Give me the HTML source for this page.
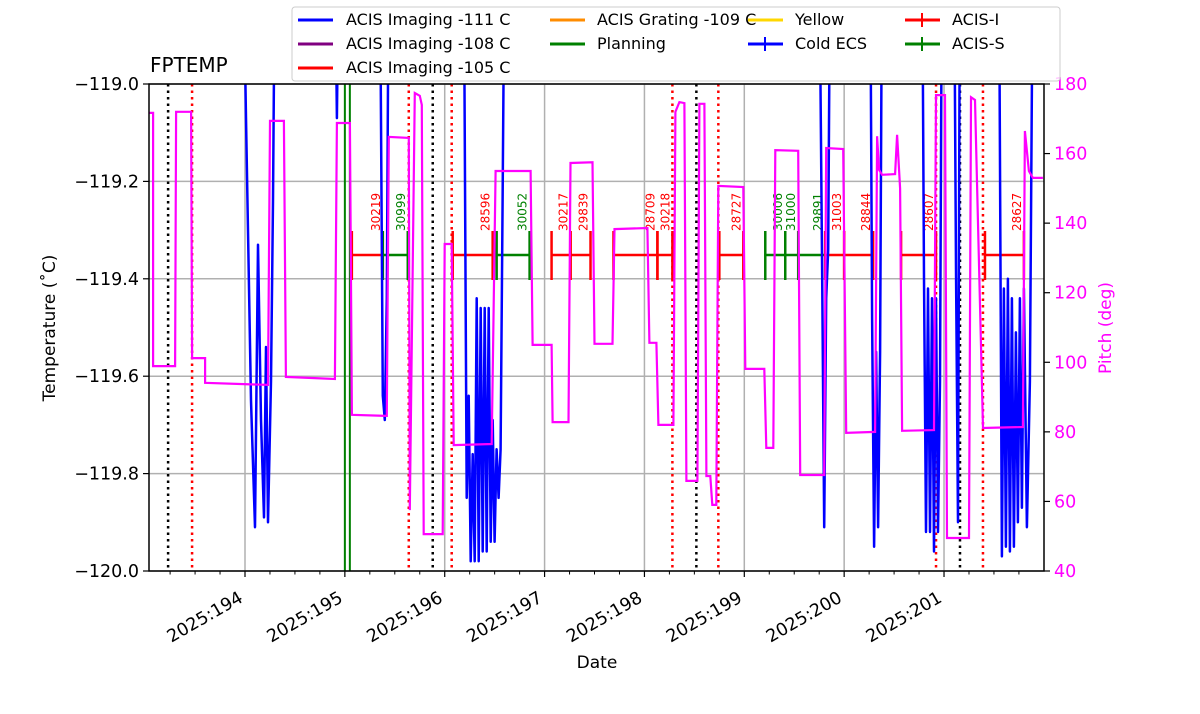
<!DOCTYPE html>
<html><head><meta charset="utf-8"><style>
body{margin:0;background:#fff}
svg{display:block;font-family:"DejaVu Sans","Liberation Sans",sans-serif}
</style></head><body>
<svg id="chart" width="1200" height="714" viewBox="0 0 1200 714" xmlns="http://www.w3.org/2000/svg">
<defs><clipPath id="clip"><rect x="149" y="84" width="895" height="487"/></clipPath></defs>
<rect width="1200" height="714" fill="#fff"/>
<g id="grid"></g>
<g id="vlines" clip-path="url(#clip)"></g>
<g id="obs"></g>
<g id="series" clip-path="url(#clip)"></g>
<rect x="149" y="84" width="895" height="487" fill="none" stroke="#000" stroke-width="1.5"/>
<g id="axes"></g>
<text x="150" y="72" font-size="20">FPTEMP</text>
<text x="597" y="668" font-size="17" text-anchor="middle">Date</text>
<text transform="translate(55,328) rotate(-90)" font-size="17" text-anchor="middle">Temperature (˚C)</text>
<text transform="translate(1111,328) rotate(-90)" font-size="17" text-anchor="middle" fill="#ff00ff">Pitch (deg)</text>
<g>
<rect x="292" y="7" width="768" height="74" rx="3" fill="#fff" fill-opacity="0.8" stroke="#ccc"/>
<g font-size="16">
<line x1="298" y1="20" x2="333" y2="20" stroke="#0000ff" stroke-width="3"/><text x="346" y="25">ACIS Imaging -111 C</text>
<line x1="298" y1="44" x2="333" y2="44" stroke="#800080" stroke-width="3"/><text x="346" y="49">ACIS Imaging -108 C</text>
<line x1="298" y1="68" x2="333" y2="68" stroke="#ff0000" stroke-width="3"/><text x="346" y="73">ACIS Imaging -105 C</text>
<line x1="550" y1="20" x2="585" y2="20" stroke="#ff8c00" stroke-width="3"/><text x="597" y="25">ACIS Grating -109 C</text>
<line x1="550" y1="44" x2="585" y2="44" stroke="#008000" stroke-width="3"/><text x="597" y="49">Planning</text>
<line x1="748" y1="20" x2="783" y2="20" stroke="#ffd700" stroke-width="3"/><text x="795" y="25">Yellow</text>
<line x1="748" y1="44" x2="783" y2="44" stroke="#0000ff" stroke-width="3"/><line x1="765" y1="37" x2="765" y2="51" stroke="#0000ff" stroke-width="2"/><text x="795" y="49">Cold ECS</text>
<line x1="905" y1="20" x2="940" y2="20" stroke="#ff0000" stroke-width="3"/><line x1="922" y1="13" x2="922" y2="27" stroke="#ff0000" stroke-width="2"/><text x="952" y="25">ACIS-I</text>
<line x1="905" y1="44" x2="940" y2="44" stroke="#008000" stroke-width="3"/><line x1="922" y1="37" x2="922" y2="51" stroke="#008000" stroke-width="2"/><text x="952" y="49">ACIS-S</text>
</g></g>
</svg>
<script>
const tempDays=[193.0,193.98,194.01,194.06,194.1,194.13,194.16,194.19,194.21,194.23,194.26,194.28,194.30,
194.9,194.92,194.94,
195.35,195.38,195.40,195.42,195.44,
196.19,196.22,196.24,196.26,196.28,196.30,196.32,196.34,196.36,196.38,196.40,196.42,196.44,196.46,196.48,196.50,196.52,196.54,196.56,196.58,196.60,
199.75,199.78,199.80,199.82,199.84,199.86,
200.26,200.28,200.30,200.32,200.34,200.36,200.38,
200.78,200.80,200.82,200.84,200.86,200.88,200.90,200.92,200.94,200.96,200.98,
201.10,201.12,201.14,201.16,
201.55,201.58,201.60,201.62,201.64,201.66,201.68,201.70,201.72,201.74,201.76,201.78,201.80,201.83,201.86,201.89,201.99];
const tempVals=[-118.7,-118.7,-119.07,-119.65,-119.91,-119.33,-119.69,-119.89,-119.54,-119.90,-119.61,-119.24,-118.7,
-118.7,-119.07,-118.7,
-118.7,-119.64,-119.69,-119.44,-118.7,
-118.7,-119.85,-119.64,-119.98,-119.76,-119.98,-119.44,-119.98,-119.46,-119.96,-119.46,-119.96,-119.46,-119.94,-119.69,-119.94,-119.75,-119.85,-119.75,-119.24,-118.7,
-118.7,-119.40,-119.91,-119.44,-119.34,-118.7,
-118.7,-119.48,-119.95,-119.55,-119.91,-119.55,-118.7,
-118.7,-119.40,-119.92,-119.42,-119.92,-119.44,-119.96,-119.44,-119.92,-119.61,-118.7,
-118.7,-119.38,-119.90,-118.7,
-118.7,-119.97,-119.42,-119.95,-119.40,-119.96,-119.44,-119.95,-119.51,-119.90,-119.44,-119.87,-119.42,-119.91,-119.61,-118.7,-118.7];
const pitchDays=[193.04,193.08,193.08,193.30,193.31,193.46,193.47,193.60,193.60,194.23,194.25,194.39,194.41,194.90,194.92,195.05,195.07,195.42,195.44,195.64,195.65,195.70,195.75,195.77,195.79,195.98,196.00,196.07,196.09,196.47,196.51,196.86,196.88,197.07,197.08,197.24,197.26,197.48,197.50,197.68,197.70,198.03,198.05,198.12,198.14,198.29,198.31,198.35,198.40,198.42,198.53,198.55,198.60,198.62,198.66,198.68,198.72,198.74,198.99,199.01,199.20,199.22,199.29,199.31,199.54,199.56,199.80,199.82,199.99,200.02,200.31,200.33,200.35,200.38,200.51,200.53,200.56,200.58,200.90,200.92,201.01,201.03,201.25,201.27,201.31,201.39,201.79,201.81,201.85,201.89,201.99];
const pitchVals=[171.7,171.7,98.9,98.9,172,172,101.2,101.2,94.1,93.5,169.4,169.4,95.8,95.2,168.8,168.8,84.9,84.6,164.8,164.5,57.5,177.4,176.6,174,50.6,50.6,134,134,76.2,76.5,155,155,105,105,82.8,82.8,157.3,157.5,105.3,105.3,138.3,138.6,105.6,105.6,82,82,172,174.8,174.5,65.9,65.9,174.3,174.3,67.3,67.3,59,59,150.7,150.4,98.1,98.1,75.4,75.4,161,160.8,67.6,67.6,161.6,161.3,79.7,80,165,155.3,153.9,154.1,165.4,150,80.3,80.5,176.8,176.8,49.5,49.5,176.2,175.4,81.1,81.4,166.5,155,153,153];
const obsStart=[195.07,195.38,196.08,196.52,197.07,197.26,197.69,198.13,198.75,199.21,199.41,199.54,199.81,200.00,200.57,201.41];
const obsEnd=[195.38,195.63,196.48,196.85,197.26,197.46,198.13,198.28,198.99,199.41,199.54,199.81,200.00,200.29,200.92,201.80];
const obsColor=["red","green","red","green","red","red","red","red","red","green","green","green","red","red","red","red"];
const obsLabel=["30219","30999","28596","30052","30217","29839","28709","30218","28727","30006","31000","29891","31003","28844","28607","28627"];
const blackLines=[193.23,195.88,198.52,201.16];
const redLines=[193.47,195.64,196.07,198.28,198.74,200.92,201.39];
const greenLines=[195.0,195.05];
const xTicks=[194,195,196,197,198,199,200,201];
const yTicks=[-119.0,-119.2,-119.4,-119.6,-119.8,-120.0];
const pTicks=[40,60,80,100,120,140,160,180];

const X0=149,X1=1044,Y0=84,Y1=571;
const xs=d=>245+(d-194)*99.86;
const ys=t=>Y0+(-119-t)*(Y1-Y0);
const ps=p=>Y1-(p-40)/140*(Y1-Y0);
const NS="http://www.w3.org/2000/svg";
function mk(tag,attrs,parent){const e=document.createElementNS(NS,tag);for(const k in attrs)e.setAttribute(k,attrs[k]);parent.appendChild(e);return e;}
const grid=document.getElementById('grid'),vl=document.getElementById('vlines'),obs=document.getElementById('obs'),ser=document.getElementById('series'),ax=document.getElementById('axes');
xTicks.forEach(d=>{const x=xs(d);const l=mk('line',{x1:x,y1:Y0,x2:x,y2:Y1,stroke:'#b0b0b0','stroke-width':1.5},grid);

mk('line',{x1:x,y1:Y1,x2:x,y2:Y1+6,stroke:'#000','stroke-width':1.2},ax);
const tx=x-1,ty=Y1+30;
const t=mk('text',{x:tx,y:ty,'font-size':17.5,'text-anchor':'end',transform:`rotate(-30 ${tx} ${ty})`},ax);t.textContent='2025:'+d;
});
for(let d=193.25;d<202;d+=0.25){if(Math.abs(d-Math.round(d))<0.01)continue;const x=xs(d);if(x<X0||x>X1)continue;mk('line',{x1:x,y1:Y1,x2:x,y2:Y1+3.5,stroke:'#000','stroke-width':1},ax);}
yTicks.forEach(v=>{const y=ys(v);const l=mk('line',{x1:X0,y1:y,x2:X1,y2:y,stroke:'#b0b0b0','stroke-width':1.5},grid);

mk('line',{x1:X0-6,y1:y,x2:X0,y2:y,stroke:'#000','stroke-width':1.2},ax);
const t=mk('text',{x:X0-10,y:y+6,'font-size':17.5,'text-anchor':'end'},ax);t.textContent=v.toFixed(1).replace('-','\u2212');
});
pTicks.forEach(v=>{const y=ps(v);mk('line',{x1:X1,y1:y,x2:X1+6,y2:y,stroke:'#000','stroke-width':1.2},ax);
const t=mk('text',{x:X1+10,y:y+6,'font-size':17.5,fill:'#ff00ff'},ax);t.textContent=v;
});
blackLines.forEach(d=>{const l=mk('line',{x1:xs(d),y1:Y0,x2:xs(d),y2:Y1,stroke:'#000','stroke-width':2.5,'stroke-dasharray':'2.5 4'},vl);
});
redLines.forEach(d=>{const l=mk('line',{x1:xs(d),y1:Y0,x2:xs(d),y2:Y1,stroke:'#ff0000','stroke-width':2.5,'stroke-dasharray':'2.5 4'},vl);
});
greenLines.forEach(d=>{const l=mk('line',{x1:xs(d),y1:Y0,x2:xs(d),y2:Y1,stroke:'#008000','stroke-width':2},vl);
});
obsStart.forEach((s,i)=>{const c=obsColor[i],a=xs(s),b=xs(obsEnd[i]),y=255;
const g=mk('g',{},obs);
mk('line',{x1:a,y1:y,x2:b,y2:y,stroke:c,'stroke-width':2.5},g);
mk('line',{x1:a,y1:231,x2:a,y2:280,stroke:c,'stroke-width':2.5},g);
mk('line',{x1:b,y1:231,x2:b,y2:280,stroke:c,'stroke-width':2.5},g);
const lx=b-8+5;const t=mk('text',{x:lx,y:231,'font-size':12,fill:c,transform:`rotate(-90 ${lx} 231)`},g);t.textContent=obsLabel[i];});
let d='';tempDays.forEach((v,i)=>{d+=(i?'L':'M')+xs(v).toFixed(1)+','+ys(tempVals[i]).toFixed(1);});
const tp=mk('path',{d:d,fill:'none',stroke:'#0000ff','stroke-width':2.5,'stroke-linejoin':'round'},ser);

d='';pitchDays.forEach((v,i)=>{d+=(i?'L':'M')+xs(v).toFixed(1)+','+ps(pitchVals[i]).toFixed(1);});
const pp=mk('path',{d:d,fill:'none',stroke:'#ff00ff','stroke-width':2.2},ser);

</script>
</body></html>
